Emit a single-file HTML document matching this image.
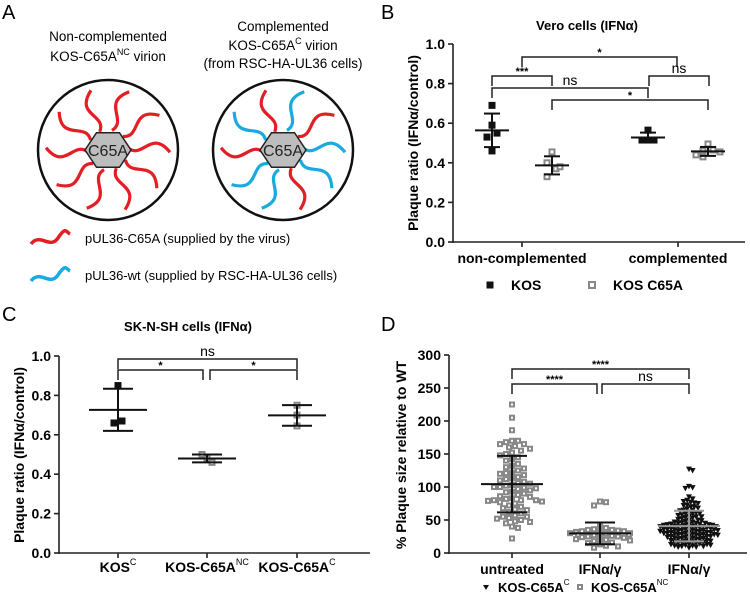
<!DOCTYPE html>
<html><head><meta charset="utf-8"><style>
html,body{margin:0;padding:0;background:#fff}
svg{display:block;font-family:"Liberation Sans",Arial,sans-serif}
</style></head><body>
<svg id="fig" width="750" height="602" viewBox="0 0 750 602" xmlns="http://www.w3.org/2000/svg">
<g id="panelA">
<text x="2" y="19" font-size="20">A</text>
<text x="108" y="41" font-size="13.5" text-anchor="middle">Non-complemented</text>
<text x="108" y="61" font-size="13.5" text-anchor="middle">KOS-C65A<tspan font-size="9" dy="-6">NC</tspan><tspan dy="6"> virion</tspan></text>
<text x="283" y="31" font-size="13.5" text-anchor="middle">Complemented</text>
<text x="283" y="50" font-size="13.5" text-anchor="middle">KOS-C65A<tspan font-size="9" dy="-6">C</tspan><tspan dy="6"> virion</tspan></text>
<text x="283" y="68" font-size="13.5" text-anchor="middle">(from RSC-HA-UL36 cells)</text>
<g id="virions"></g>
<path d="M31 244 C40 232,50 250,58 238 S66 232,70 234" fill="none" stroke="#e31e24" stroke-width="3.5"/>
<path d="M31 281 C40 269,50 287,58 275 S66 269,70 271" fill="none" stroke="#1ba9e1" stroke-width="3.5"/>
<text x="85" y="243" font-size="13">pUL36-C65A (supplied by the virus)</text>
<text x="85" y="280" font-size="13">pUL36-wt (supplied by RSC-HA-UL36 cells)</text>
</g>
<g id="panelB"></g><g id="panelC"></g><g id="panelD"></g>
</svg>
<script>
// ---------- Panel B data ----------
const bCats=["non-complemented","complemented"];
const bKOS=[[0.69,0.59,0.53,0.55,0.46],[0.565,0.515,0.515,0.515]];
const bC65A=[[0.455,0.40,0.37,0.38,0.33],[0.495,0.46,0.465,0.44,0.43,0.455]];
const bTicks=[0,0.2,0.4,0.6,0.8,1.0];
// ---------- Panel C data ----------
const cCats=["KOS","KOS-C65A","KOS-C65A"];
const cSup=["C","NC","C"];
const cVals=[[0.85,0.66,0.67],[0.50,0.46,0.48],[0.75,0.70,0.645]];
const cTicks=[0,0.2,0.4,0.6,0.8,1.0];
// ---------- Panel D data ----------
const dCats=["untreated","IFNα/γ","IFNα/γ"];
const dUntreated=[225,205,186,170,170,168,165,165,162,160,158,155,152,150,148,145,142,140,135,132,130,128,125,122,121,120,118,115,113,112,110,108,106,105,103,102,100,100,99,98,97,95,93,92,90,88,86,85,83,82,80,80,80,79,78,77,75,72,70,68,66,65,62,60,57,55,55,53,52,50,48,47,45,40,38,22];
const dIfnNC=[78,77,72,40,38,36,35,35,34,33,33,32,31,30,30,29,28,28,27,26,25,25,24,23,22,21,20,19,18,16,15,13,11,10,8];
const dIfnC=[127,125,101,99,98,85,82,80,78,77,76,75,73,72,70,70,68,67,65,65,64,62,61,60,60,59,58,57,56,55,55,54,53,52,51,50,50,49,48,47,47,46,45,45,45,44,44,44,43,43,42,42,42,41,41,40,40,40,40,39,39,38,38,38,37,37,36,36,36,35,35,35,34,34,34,33,33,33,32,32,31,31,31,30,30,30,29,29,28,28,28,27,27,27,26,26,25,25,25,24,24,23,23,22,22,21,21,20,20,19,19,18,18,17,17,16,16,15,15,14,14,13,13,12,12,11,11,10,10,9,9,8];
const dTicks=[0,50,100,150,200,250,300];

const NS="http://www.w3.org/2000/svg";
function mk(parent,tag,attrs,name,txt){
  const e=document.createElementNS(NS,tag);
  for(const k in attrs)e.setAttribute(k,attrs[k]);
  
  
  if(txt!==undefined)e.textContent=txt;
  parent.appendChild(e);return e;
}
function mean(a){return a.reduce((s,v)=>s+v,0)/a.length}
function sd(a){const m=mean(a);return Math.sqrt(a.reduce((s,v)=>s+(v-m)*(v-m),0)/(a.length-1))}
function lin(d0,d1,r0,r1){return v=>r0+(v-d0)*(r1-r0)/(d1-d0)}

function yAxis(g,x,y0,y1,ticks,yS,fmt,name){
  mk(g,'line',{x1:x,x2:x,y1:y0+1,y2:y1,stroke:'#222','stroke-width':1.6},name+'-line');
  ticks.forEach(t=>{
    mk(g,'line',{x1:x-5,x2:x,y1:yS(t),y2:yS(t),stroke:'#222','stroke-width':1.6},name+'-tick');
    mk(g,'text',{x:x-8,y:yS(t)+5,'font-size':14,'font-weight':'bold','text-anchor':'end'},name+'-tick-label',fmt(t));
  });
}
function xAxis(g,x0,x1,y,xs,name){
  mk(g,'line',{x1:x0,x2:x1,y1:y,y2:y,stroke:'#222','stroke-width':1.6},name+'-line');
  xs.forEach(x=>mk(g,'line',{x1:x,x2:x,y1:y,y2:y+5,stroke:'#222','stroke-width':1.6},name+'-tick'));
}
function errbar(g,cx,vals,yS,hw,cw,col,name){
  const m=mean(vals),s=sd(vals);
  mk(g,'line',{x1:cx-hw,x2:cx+hw,y1:yS(m),y2:yS(m),stroke:col,'stroke-width':2},name+'-mean');
  mk(g,'line',{x1:cx,x2:cx,y1:yS(m+s),y2:yS(m-s),stroke:col,'stroke-width':2},name+'-sd');
  mk(g,'line',{x1:cx-cw,x2:cx+cw,y1:yS(m+s),y2:yS(m+s),stroke:col,'stroke-width':2},name+'-cap-top');
  mk(g,'line',{x1:cx-cw,x2:cx+cw,y1:yS(m-s),y2:yS(m-s),stroke:col,'stroke-width':2},name+'-cap-bottom');
}
function bracket(g,x1,x2,y,label,big,name){
  mk(g,'path',{d:`M${x1} ${y+10}V${y}H${x2}V${y+10}`,fill:'none',stroke:'#222','stroke-width':1.5},name);
  mk(g,'text',{x:(x1+x2)/2,y:big?y-3:y-1,'font-size':big?14:11,'font-weight':big?'normal':'bold','text-anchor':'middle'},name+'-label',label);
}
function swarm(vals,cx,yS,d,maxw){
  const placed=[];const out=[];
  [...vals].sort((a,b)=>b-a).forEach(v=>{
    const y=yS(v);let done=false;
    for(let k=0;k<200;k++){
      const off=(k%2?1:-1)*Math.ceil(k/2)*d*0.5;
      if(Math.abs(off)>maxw)break;
      const x=cx+off;
      if(placed.every(p=>(p[0]-x)**2+(p[1]-y)**2>=d*d*0.95)){placed.push([x,y]);out.push([x,y]);done=true;break;}
    }
    if(!done){const x=cx+(out.length%2?1:-1)*((out.length*7)%maxw);out.push([x,y]);}
  });
  return out;
}
function sq(g,x,y,s,filled,name){
  if(filled) mk(g,'rect',{x:x-s/2,y:y-s/2,width:s,height:s,fill:'#111'},name);
  else mk(g,'rect',{x:x-s/2+1,y:y-s/2+1,width:s-2,height:s-2,fill:'#fff',stroke:'#888','stroke-width':2},name);
}

// ---------- Panel A virions ----------
(function(){
  const g=document.getElementById('virions');
  [[108,150,0],[283,150,1]].forEach(([cx,cy,comp])=>{
    mk(g,'circle',{cx,cy,r:70,fill:'#fff',stroke:'#111','stroke-width':2.5},'virion-envelope');
    const blue=[0,2,3,5,6,8];
    for(let i=0;i<10;i++){
      const a=i*Math.PI*2/10-Math.PI/2+0.2;
      const p=(r,t)=>[cx+Math.cos(a+t)*r,cy+Math.sin(a+t)*r];
      const A=p(20,0),B=p(36,0.4),C=p(48,-0.35),D=p(62,0.15);
      const col=comp&&blue.includes(i)?'#1ba9e1':'#e31e24';
      mk(g,'path',{d:`M${A[0]} ${A[1]}C${B[0]} ${B[1]},${C[0]} ${C[1]},${D[0]} ${D[1]}`,fill:'none',stroke:col,'stroke-width':3.2},'tegument-tail');
    }
    let pts=[];for(let i=0;i<6;i++){const a=i*Math.PI/3;pts.push((cx+Math.cos(a)*23).toFixed(1)+','+(cy+Math.sin(a)*20).toFixed(1));}
    mk(g,'polygon',{points:pts.join(' '),fill:'#bdbdbd',stroke:'#222','stroke-width':1.5},'capsid-hexagon');
    mk(g,'text',{x:cx,y:cy+6,'font-size':16,'text-anchor':'middle',fill:'#222'},'capsid-label','C65A');
  });
})();

// ---------- Panel B ----------
(function(){
  const g=document.getElementById('panelB');
  mk(g,'text',{x:381,y:19,'font-size':20},'panel-b-label','B');
  mk(g,'text',{x:587,y:30,'font-size':13,'font-weight':'bold','text-anchor':'middle'},'chart-b-title','Vero cells (IFNα)');
  const yS=lin(0,1,242,44);
  yAxis(g,453,242,44,bTicks,yS,t=>t.toFixed(1),'b-y-axis');
  const cx=[522,678];
  xAxis(g,453,745,242,cx,'b-x-axis');
  mk(g,'text',{x:418,y:143,'font-size':14,'font-weight':'bold','text-anchor':'middle',transform:'rotate(-90 418 143)'},'b-y-axis-title','Plaque ratio (IFNα/control)');
  bCats.forEach((c,i)=>mk(g,'text',{x:cx[i],y:263,'font-size':14,'font-weight':'bold','text-anchor':'middle'},'b-x-label',c));
  bKOS.forEach((vals,i)=>{const x=cx[i]-30;vals.forEach((v,j)=>sq(g,x+(i?[0,-6,6,0][j]:[0,0,-5,5,0][j]),yS(v),7,true,'kos-point'));errbar(g,x,vals,yS,17,8,'#111','kos-errorbar');});
  bC65A.forEach((vals,i)=>{const x=cx[i]+30;vals.forEach((v,j)=>sq(g,x+(i?[0,-5,5,-12,-5,12][j]:[0,-5,4,8,-5][j]),yS(v),7,false,'kos-c65a-point'));errbar(g,x,vals,yS,17,8,'#111','kos-c65a-errorbar');});
  bracket(g,522,677,57,'*',false,'b-bracket-kos-vs-c65a');
  bracket(g,492,552,76,'***',false,'b-bracket-noncomp');
  bracket(g,649,709,76,'ns',true,'b-bracket-comp');
  bracket(g,492,648,88,'ns',true,'b-bracket-kos');
  bracket(g,552,708,100,'*',false,'b-bracket-c65a');
  sq(g,490,285,7,true,'legend-kos-marker');
  mk(g,'text',{x:511,y:290,'font-size':14,'font-weight':'bold'},'legend-kos-text','KOS');
  sq(g,592,285,8,false,'legend-c65a-marker');
  mk(g,'text',{x:613,y:290,'font-size':14,'font-weight':'bold'},'legend-c65a-text','KOS C65A');
})();

// ---------- Panel C ----------
(function(){
  const g=document.getElementById('panelC');
  mk(g,'text',{x:2,y:321,'font-size':20},'panel-c-label','C');
  mk(g,'text',{x:188,y:331,'font-size':13,'font-weight':'bold','text-anchor':'middle'},'chart-c-title','SK-N-SH cells (IFNα)');
  const yS=lin(0,1,553,356);
  yAxis(g,59,553,356,cTicks,yS,t=>t.toFixed(1),'c-y-axis');
  const cx=[118,207,297];
  xAxis(g,59,370,553,cx,'c-x-axis');
  mk(g,'text',{x:24,y:455,'font-size':14,'font-weight':'bold','text-anchor':'middle',transform:'rotate(-90 24 455)'},'c-y-axis-title','Plaque ratio (IFNα/control)');
  cCats.forEach((c,i)=>{const t=mk(g,'text',{x:cx[i],y:572,'font-size':14,'font-weight':'bold','text-anchor':'middle'},'c-x-label',c);
    const s=document.createElementNS(NS,'tspan');s.setAttribute('font-size','9');s.setAttribute('font-weight','normal');s.setAttribute('dy','-7');s.textContent=cSup[i];t.appendChild(s);});
  const offs=[[0,-4,4],[-5,5,0],[0,0,0]];
  cVals.forEach((vals,i)=>{vals.forEach((v,j)=>sq(g,cx[i]+offs[i][j],yS(v),7,i===0,'c-point'));errbar(g,cx[i],vals,yS,29,15,'#111','c-errorbar');});
  bracket(g,118,297,359,'ns',true,'c-bracket-ns');
  bracket(g,118,203,370,'*',false,'c-bracket-1');
  bracket(g,210,297,370,'*',false,'c-bracket-2');
})();

// ---------- Panel D ----------
(function(){
  const g=document.getElementById('panelD');
  mk(g,'text',{x:381,y:331,'font-size':20},'panel-d-label','D');
  const yS=lin(0,300,553,355);
  yAxis(g,449,553,355,dTicks,yS,t=>String(t),'d-y-axis');
  const cx=[512,600,689];
  xAxis(g,449,747,553,cx,'d-x-axis');
  mk(g,'text',{x:406,y:455,'font-size':14,'font-weight':'bold','text-anchor':'middle',transform:'rotate(-90 406 455)'},'d-y-axis-title','% Plaque size relative to WT');
  dCats.forEach((c,i)=>mk(g,'text',{x:cx[i],y:574,'font-size':14,'font-weight':'bold','text-anchor':'middle'},'d-x-label',c));
  swarm(dUntreated,cx[0],yS,6,30).forEach(p=>sq(g,p[0],p[1],6,false,'untreated-point'));
  swarm(dIfnNC,cx[1],yS,6,30).forEach(p=>sq(g,p[0],p[1],6,false,'ifn-nc-point'));
  swarm(dIfnC,cx[2],yS,3.6,30).forEach(p=>mk(g,'path',{d:`M${p[0]-3} ${p[1]-2.5}H${p[0]+3}L${p[0]} ${p[1]+3}Z`,fill:'#111'},'ifn-c-point'));
  errbar(g,cx[0],dUntreated,yS,31,15,'#111','untreated-errorbar');
  errbar(g,cx[1],dIfnNC,yS,31,15,'#111','ifn-nc-errorbar');
  errbar(g,cx[2],dIfnC,yS,31,15,'#999','ifn-c-errorbar');
  bracket(g,512,689,369,'****',false,'d-bracket-top');
  bracket(g,512,597,384,'****',false,'d-bracket-1');
  bracket(g,602,689,384,'ns',true,'d-bracket-ns');
  mk(g,'path',{d:'M483 585H489L486 590Z',fill:'#111'},'legend-c-marker');
  const t1=mk(g,'text',{x:498,y:592,'font-size':13,'font-weight':'bold'},'legend-c-text','KOS-C65A');
  let s=document.createElementNS(NS,'tspan');s.setAttribute('font-size','8');s.setAttribute('font-weight','normal');s.setAttribute('dy','-7');s.textContent='C';t1.appendChild(s);
  sq(g,580,587,6,false,'legend-nc-marker');
  const t2=mk(g,'text',{x:591,y:592,'font-size':13,'font-weight':'bold'},'legend-nc-text','KOS-C65A');
  s=document.createElementNS(NS,'tspan');s.setAttribute('font-size','8');s.setAttribute('font-weight','normal');s.setAttribute('dy','-7');s.textContent='NC';t2.appendChild(s);
})();
</script>
</body></html>
